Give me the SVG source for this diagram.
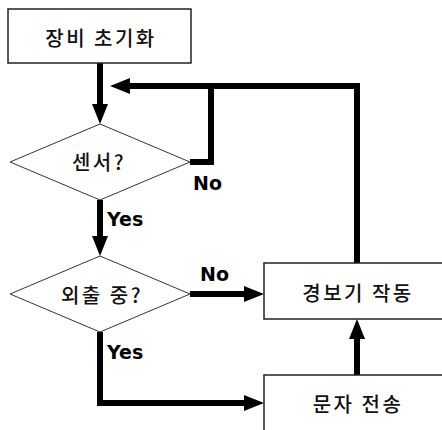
<svg xmlns="http://www.w3.org/2000/svg" width="442" height="430" viewBox="0 0 442 430">
<style>
.box{fill:#fff;stroke:#222;stroke-width:1.5}
.dia{fill:#fff;stroke:#333;stroke-width:1}
.kt{font-family:"Noto Sans CJK KR","Noto Sans",sans-serif;font-size:20px;font-weight:500;fill:#111;text-anchor:middle;dominant-baseline:central;letter-spacing:2.5px}
.lb{font-family:"DejaVu Sans",sans-serif;font-weight:bold;font-size:19px;fill:#000}
.cn{fill:none;stroke:#000;stroke-width:6;stroke-linejoin:miter}
</style>
<defs>
<marker id="ah" markerUnits="userSpaceOnUse" markerWidth="20" markerHeight="16" refX="0" refY="8" orient="auto">
<path d="M0,0 L20,8 L0,16 z" fill="#000"/>
</marker>
</defs>
<rect width="442" height="430" fill="#fff"/>
<g id="connectors">
<path class="cn" d="M100,63 V104" marker-end="url(#ah)"/>
<path class="cn" d="M190,162 H211 V86"/>
<path class="cn" d="M357,263 V86 H130" marker-end="url(#ah)"/>
<path class="cn" d="M100,200 V236" marker-end="url(#ah)"/>
<path class="cn" d="M190,294 H244" marker-end="url(#ah)"/>
<path class="cn" d="M100,332 V403 H244" marker-end="url(#ah)"/>
<path class="cn" d="M357,375 V339" marker-end="url(#ah)"/>
</g>
<g id="init">
<rect class="box" x="8" y="9" width="183" height="54"/>
<text class="kt" x="101" y="37">장비 초기화</text>
</g>
<g id="sensor">
<polygon class="dia" points="100,124 190,162 100,200 10,162"/>
<text class="kt" x="99" y="161">센서?</text>
</g>
<g id="outing">
<polygon class="dia" points="100,256 190,294 100,332 10,294"/>
<text class="kt" x="102" y="294">외출 중?</text>
</g>
<g id="alarm">
<rect class="box" x="264" y="263" width="185" height="56"/>
<text class="kt" x="358" y="292">경보기 작동</text>
</g>
<g id="sms">
<rect class="box" x="264" y="375" width="185" height="62"/>
<text class="kt" x="358" y="403">문자 전송</text>
</g>
<g id="labels">
<text class="lb" x="193" y="190">No</text>
<text class="lb" x="107" y="226">Yes</text>
<text class="lb" x="200" y="281">No</text>
<text class="lb" x="107" y="359">Yes</text>
</g>
</svg>
